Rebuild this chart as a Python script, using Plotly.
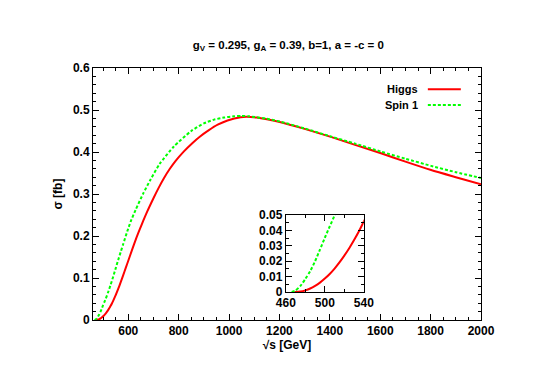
import plotly.graph_objects as go

# Higgs cross section (fb) vs sqrt(s) (GeV)
higgs_x = [469, 475, 480, 485, 490, 495, 500, 505, 510, 515, 520, 525, 530, 535, 540,
           550, 560, 570, 580, 590, 600, 615, 630, 645, 660, 675, 700, 720, 742, 765,
           788, 820, 854, 885, 920, 955, 994, 1046, 1070, 1110, 1150, 1205, 1300, 1404,
           1500, 1603, 1700, 1802, 1900, 2000]
higgs_y = [0, 0.0003, 0.0011, 0.0023, 0.004, 0.0061, 0.0087, 0.0117, 0.0152, 0.0192,
           0.0236, 0.0284, 0.0337, 0.0394, 0.0457, 0.059, 0.074, 0.090, 0.107, 0.124,
           0.141, 0.167, 0.192, 0.215, 0.237, 0.258, 0.290, 0.314, 0.338, 0.360, 0.379,
           0.401, 0.421, 0.437, 0.452, 0.465, 0.475, 0.483, 0.484, 0.482, 0.478, 0.471,
           0.455, 0.436, 0.417, 0.397, 0.377, 0.357, 0.340, 0.323]

# Spin 1
spin1_x = [466, 470, 475, 480, 485, 490, 495, 500, 505, 510, 520, 530, 540, 550, 560,
           570, 580, 596, 610, 629, 660, 689, 725, 781, 850, 900, 940, 980, 1020, 1050,
           1080, 1150, 1205, 1300, 1404, 1500, 1603, 1700, 1802, 1900, 2000]
spin1_y = [0, 0.001, 0.004, 0.0085, 0.0135, 0.020, 0.0275, 0.0352, 0.0425, 0.0497,
           0.066, 0.084, 0.103, 0.123, 0.143, 0.162, 0.181, 0.211, 0.235, 0.262, 0.302,
           0.335, 0.372, 0.413, 0.450, 0.468, 0.477, 0.482, 0.485, 0.486, 0.485, 0.479,
           0.472, 0.456, 0.437, 0.420, 0.401, 0.384, 0.367, 0.352, 0.338]

FONT = "Liberation Sans, Arial, sans-serif"
RED = "#ff0000"
GREEN = "#00ff00"

fig = go.Figure()
for ax in ["x", "x2"]:
    yax = "y" if ax == "x" else "y2"
    fig.add_trace(go.Scatter(x=higgs_x, y=higgs_y, mode="lines", xaxis=ax, yaxis=yax,
                             line=dict(color=RED, width=2, shape="spline", smoothing=0.6),
                             showlegend=False))
    fig.add_trace(go.Scatter(x=spin1_x, y=spin1_y, mode="lines", xaxis=ax, yaxis=yax,
                             line=dict(color=GREEN, width=2, dash="3px,2px",
                                       shape="spline", smoothing=0.6),
                             showlegend=False))

tickfont = dict(family=FONT, size=12, color="black", weight="bold")
titlefont = dict(family=FONT, size=12, color="black", weight="bold")
axis_common = dict(showline=True, linecolor="black", linewidth=1, mirror="ticks",
                   ticks="inside", ticklen=6, tickcolor="black", showgrid=False,
                   zeroline=False, tickfont=tickfont)

# page body adds ~8px offset, so the figure is a bit smaller than the window
fig.update_layout(
    width=537, height=377,
    margin=dict(l=85, r=64, t=60, b=65),
    paper_bgcolor="white", plot_bgcolor="white",
    title=dict(text="g<sub>V</sub> = 0.295, g<sub>A</sub> = 0.39, b=1, a = -c = 0",
               x=0.522, xanchor="center", y=0.902, yanchor="middle",
               font=dict(family=FONT, size=11.5, color="black", weight="bold")),
    xaxis=dict(range=[460, 2000], tickvals=[600, 800, 1000, 1200, 1400, 1600, 1800, 2000],
               minor=dict(dtick=50, tick0=0, ticks="inside", ticklen=3, tickcolor="black"),
               title=dict(text="√s [GeV]", standoff=3, font=titlefont),
               domain=[0, 1], **axis_common),
    yaxis=dict(range=[0, 0.6], dtick=0.1, tick0=0,
               minor=dict(dtick=0.02, tick0=0, ticks="inside", ticklen=3, tickcolor="black"),
               title=dict(text="σ [fb]", standoff=7, font=titlefont),
               domain=[0, 1], **axis_common),
    xaxis2=dict(range=[460, 540], dtick=40, tick0=460, anchor="y2",
                minor=dict(dtick=20, tick0=460, ticks="inside", ticklen=3, tickcolor="black"),
                domain=[0.497, 0.698], **axis_common),
    yaxis2=dict(range=[0, 0.05], dtick=0.01, tick0=0, anchor="x2",
                minor=dict(dtick=0.005, tick0=0, ticks="inside", ticklen=3, tickcolor="black"),
                domain=[0.111, 0.417], **axis_common),
)

# gnuplot-style key: text right-aligned, line sample on the right
legend_names = ["Higgs", "Spin 1"]
legend_styles = [dict(color=RED, width=2), dict(color=GREEN, width=2, dash="3px,2px")]
legend_y = [0.9155, 0.853]
for name, style, yp in zip(legend_names, legend_styles, legend_y):
    fig.add_annotation(text=name, xref="paper", yref="paper", x=0.843, y=yp,
                       xanchor="right", yanchor="middle", showarrow=False,
                       font=dict(family=FONT, size=11, color="black", weight="bold"))
    fig.add_shape(type="line", xref="paper", yref="paper", x0=0.863, x1=0.948,
                  y0=yp, y1=yp, line=style)

fig.write_html("out.html")
